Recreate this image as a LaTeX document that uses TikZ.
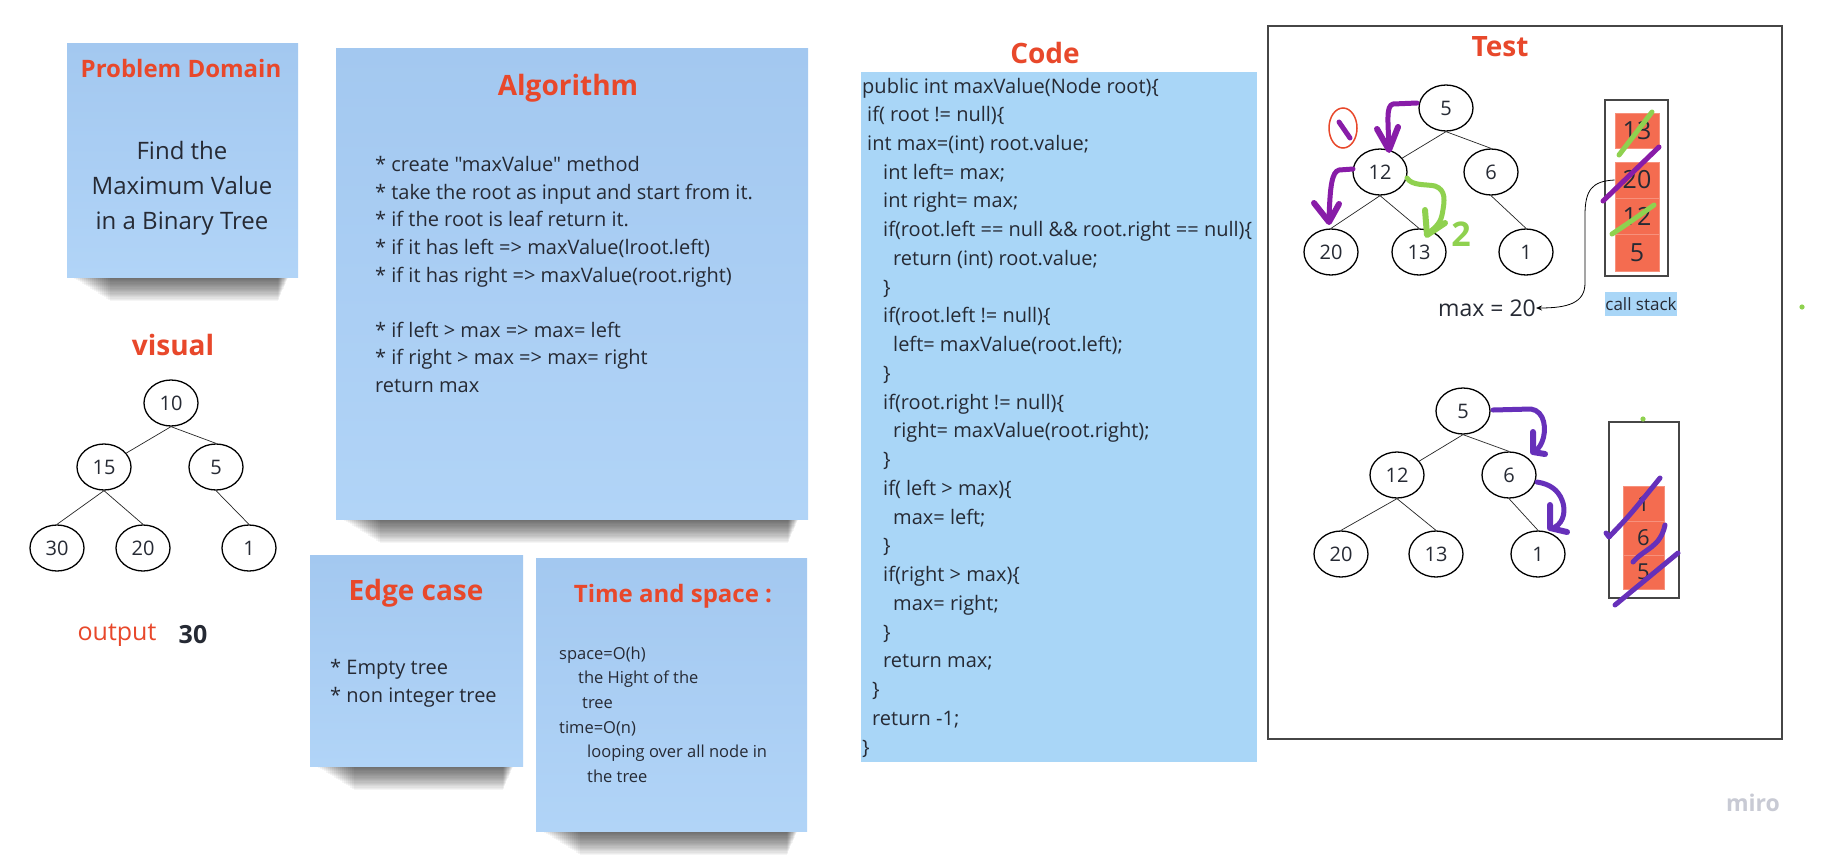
\documentclass[tikz,border=0pt]{standalone}
\usepackage{fontspec}
\setmainfont{Open Sans}[Ligatures=TeXOff]
\usetikzlibrary{shapes.geometric,arrows.meta}
\definecolor{stickyA}{RGB}{163,200,240}
\definecolor{stickyB}{RGB}{177,212,247}
\definecolor{codebg}{RGB}{169,214,247}
\definecolor{titlered}{RGB}{232,72,43}
\definecolor{ink}{RGB}{38,42,52}
\definecolor{coral}{RGB}{244,108,80}
\definecolor{purpA}{RGB}{136,28,168}
\definecolor{purpB}{RGB}{102,48,186}
\definecolor{lgreen}{RGB}{143,209,79}
\definecolor{framegray}{RGB}{70,70,70}
\definecolor{mirogray}{RGB}{200,202,212}
\begin{document}
\begin{tikzpicture}[x=1pt,y=-1pt,
  sticky/.style={top color=stickyA,bottom color=stickyB,draw=none},
  shadowlayer/.style={fill=black,opacity=0.04},
  heading/.style={text=titlered,inner sep=0pt},
  body/.style={text=ink,inner sep=0pt,align=left},
  tnode/.style={ellipse,draw=black,line width=1.3pt,minimum width=54pt,minimum height=46pt,inner sep=0pt,font=\fontsize{20}{20}\selectfont,text=ink},
  tedge/.style={line width=0.7pt,draw=black!85},
  cell/.style={rectangle,fill=coral,draw=coral!75!white,line width=0.6pt,inner sep=0pt,text=ink},
  stackbox/.style={draw=framegray,line width=1.5pt},
  pen/.style={line width=5pt,line cap=round,line join=round},
  headpen/.style={line width=6pt,line cap=round,line join=round}]
\useasboundingbox (0,0) rectangle (1826,855);
\fill[white] (0,0) rectangle (1826,855);

% ---------- shadows (stacked translucent bands) ----------
\foreach \xa/\xb/\yb in {70/289/276, 340/799/518, 314/514/765, 540/798/830}{
  \foreach \i in {1,...,20}{
    \fill[shadowlayer] (\xa+2*\i,\yb) rectangle (\xb-0.55*\i,\yb+1.25*\i);
  }
}

% ---------- stickies ----------
\fill[sticky] (67,43) rectangle (298,277);
\fill[sticky] (336,48) rectangle (808,519);
\fill[sticky] (310,555) rectangle (523,766);
\fill[sticky] (536,558) rectangle (807,831);

% ---------- Problem Domain ----------
\node[heading,font=\bfseries\fontsize{24}{24}\selectfont] (pdt) at (181,68) {Problem Domain};
\node[text=ink,inner sep=0pt,align=center,font=\fontsize{24}{35}\selectfont] (pdb) at (182,188) {Find the\\Maximum Value\\in a Binary Tree};

% ---------- Algorithm ----------
\node[heading,font=\bfseries\fontsize{28}{28}\selectfont] (algt) at (568,88) {Algorithm};
\node[body,anchor=west,font=\fontsize{20}{27.6}\selectfont] (algb) at (375,274.5) {* create "maxValue" method\\
* take the root as input and start from it.\\
* if the root is leaf return it.\\
* if it has left => maxValue(lroot.left)\\
* if it has right => maxValue(root.right)\\[27.6pt]
* if left > max => max= left\\
* if right > max => max= right\\
return max};

% ---------- visual ----------
\node[heading,font=\bfseries\fontsize{28}{28}\selectfont] (vist) at (173,345) {visual};
\node[tnode] (v10) at (171,403) {10};
\node[tnode] (v15) at (104,467) {15};
\node[tnode] (v5) at (216,467) {5};
\node[tnode] (v30) at (57,548) {30};
\node[tnode] (v20) at (143,548) {20};
\node[tnode] (v1) at (249,548) {1};
\draw[tedge] (v10.south) -- (v15.32);
\draw[tedge] (v10.south) -- (v5.north);
\draw[tedge] (v15.south) -- (v30.north);
\draw[tedge] (v15.south) -- (v20.north);
\draw[tedge] (v5.south) -- (v1.north);
\node[text=titlered,inner sep=0pt,font=\fontsize{25}{25}\selectfont] (outl) at (117,635) {output};
\node[text=ink,inner sep=0pt,font=\bfseries\fontsize{25}{25}\selectfont] (outv) at (193,635) {30};

% ---------- Edge case ----------
\node[heading,font=\bfseries\fontsize{28}{28}\selectfont] (edt) at (416,593) {Edge case};
\node[body,anchor=west,font=\fontsize{20}{28}\selectfont] (edb) at (330,683) {* Empty tree\\* non integer tree};

% ---------- Time and space ----------
\node[heading,font=\bfseries\fontsize{24}{24}\selectfont] (tst) at (673,596) {Time and space :};
\node[body,anchor=west,font=\fontsize{16.5}{24.6}\selectfont] (tsb) at (559,714.5) {space=O(h)\\
\hspace*{19pt}the Hight of the\\
\hspace*{23pt}tree\\
time=O(n)\\
\hspace*{28pt}looping over all node in\\
\hspace*{28pt}the tree};

% ---------- Code ----------
\node[heading,font=\bfseries\fontsize{28}{28}\selectfont] (codet) at (1045,53) {Code};
\fill[codebg] (861,72) rectangle (1257,762);
\node[body,anchor=west,font=\fontsize{20}{28.74}\selectfont] (codeb) at (862,417.5) {public int maxValue(Node root)\{\\
\hspace*{5pt}if( root != null)\{\\
\hspace*{5pt}int max=(int) root.value;\\
\hspace*{21pt}int left= max;\\
\hspace*{21pt}int right= max;\\
\hspace*{21pt}if(root.left == null \&\& root.right == null)\{\\
\hspace*{31pt}return (int) root.value;\\
\hspace*{21pt}\}\\
\hspace*{21pt}if(root.left != null)\{\\
\hspace*{31pt}left= maxValue(root.left);\\
\hspace*{21pt}\}\\
\hspace*{21pt}if(root.right != null)\{\\
\hspace*{31pt}right= maxValue(root.right);\\
\hspace*{21pt}\}\\
\hspace*{21pt}if( left > max)\{\\
\hspace*{31pt}max= left;\\
\hspace*{21pt}\}\\
\hspace*{21pt}if(right > max)\{\\
\hspace*{31pt}max= right;\\
\hspace*{21pt}\}\\
\hspace*{21pt}return max;\\
\hspace*{10pt}\}\\
\hspace*{10pt}return -1;\\
\}};

% ---------- Test frame ----------
\draw[draw=framegray,line width=1.5pt] (1268,26) rectangle (1782,739);
\node[heading,font=\bfseries\fontsize{28}{28}\selectfont] (testt) at (1500,47) {Test};

% top tree
\node[tnode] (a5) at (1446,108) {5};
\node[tnode] (a12) at (1380,172) {12};
\node[tnode] (a6) at (1491,172) {6};
\node[tnode] (a20) at (1331,252) {20};
\node[tnode] (a13) at (1419,252) {13};
\node[tnode] (a1) at (1526,252) {1};
\draw[tedge] (a5.south) -- (a12.32);
\draw[tedge] (a5.south) -- (a6.north);
\draw[tedge] (a12.south) -- (a20.north);
\draw[tedge] (a12.south) -- (a13.north);
\draw[tedge] (a6.south) -- (a1.north);

% top call stack
\draw[stackbox] (1605,100) rectangle (1668,276);
\node[cell,minimum width=44pt,minimum height=35pt,font=\fontsize{25}{25}\selectfont] (s13) at (1637,130.5) {13};
\node[cell,minimum width=44pt,minimum height=36pt,font=\fontsize{25}{25}\selectfont] (s20) at (1637,180) {20};
\node[cell,minimum width=44pt,minimum height=36pt,font=\fontsize{25}{25}\selectfont] (s12) at (1637,216) {12};
\node[cell,minimum width=44pt,minimum height=37pt,font=\fontsize{25}{25}\selectfont] (s5) at (1637,252.5) {5};
\node[fill=codebg,minimum width=72pt,minimum height=24pt,inner sep=0pt,text=ink,font=\fontsize{17}{17}\selectfont] (cslbl) at (1641,304) {call stack};
\node[text=ink,inner sep=0pt,font=\fontsize{23}{23}\selectfont] (maxlbl) at (1487,308) {max = 20};
\draw[line width=0.8pt,-{Stealth[length=6pt,width=5pt]}] (s20.west) .. controls (1592,181) and (1585,190) .. (1585,215) -- (1585,283) .. controls (1585,303) and (1568,308) .. (maxlbl.east);

% top annotations
\draw[titlered,line width=1.5pt] (1343,128) ellipse [x radius=14, y radius=20];
\draw[purpA,pen] (1339,122) -- (1350,138);
\draw[purpA,pen] (1417,103) -- (1393,104) .. controls (1386,106) and (1388,120) .. (1389,148);
\draw[purpA,headpen] (1377,129) -- (1389,150) -- (1398,127);
\draw[purpA,pen] (1353,169) -- (1339,170) .. controls (1332,172) and (1330,185) .. (1329,220);
\draw[purpA,headpen] (1314,203) -- (1329,222) -- (1339,204);
\draw[lgreen,pen] (1407,178) .. controls (1412,186) and (1425,184) .. (1435,186) .. controls (1446,190) and (1445,200) .. (1442,215) .. controls (1440,225) and (1432,230) .. (1427,234);
\draw[lgreen,headpen] (1425,210) -- (1427,235) -- (1445,223);
\node[text=lgreen,inner sep=0pt,font=\bfseries\fontsize{34}{34}\selectfont] (two) at (1461,234) {2};
\draw[lgreen,pen] (1619,155) -- (1652,112);
\draw[purpA,pen] (1603,201) -- (1659,147);
\draw[lgreen,pen] (1612,234) .. controls (1630,222) .. (1654,205);
\fill[lgreen] (1802,307) circle (2.6);

% bottom tree
\node[tnode] (b5) at (1463,411) {5};
\node[tnode] (b12) at (1397,475) {12};
\node[tnode] (b6) at (1509,475) {6};
\node[tnode] (b20) at (1341,554) {20};
\node[tnode] (b13) at (1436,554) {13};
\node[tnode] (b1) at (1538,554) {1};
\draw[tedge] (b5.south) -- (b12.32);
\draw[tedge] (b5.south) -- (b6.north);
\draw[tedge] (b12.south) -- (b20.north);
\draw[tedge] (b12.south) -- (b13.north);
\draw[tedge] (b6.south) -- (b1.north);

% bottom call stack
\draw[stackbox] (1609,422) rectangle (1679,598);
\node[cell,minimum width=41pt,minimum height=35pt,font=\fontsize{22}{22}\selectfont] (t1) at (1643.5,503.5) {1};
\node[cell,minimum width=41pt,minimum height=34pt,font=\fontsize{22}{22}\selectfont] (t6) at (1643.5,538) {6};
\node[cell,minimum width=41pt,minimum height=34pt,font=\fontsize{22}{22}\selectfont] (t5) at (1643.5,572) {5};
\fill[lgreen] (1643,419) circle (2.6);

% bottom annotations
\draw[purpB,pen] (1493,410) -- (1531,409) .. controls (1545,411) and (1547,430) .. (1542,442) .. controls (1540,447) and (1537,450) .. (1535,450);
\draw[purpB,headpen] (1533,432) -- (1533,452) -- (1545,454);
\draw[purpB,pen] (1537,482) .. controls (1550,484) and (1558,490) .. (1562,500) .. controls (1566,510) and (1564,522) .. (1555,527);
\draw[purpB,headpen] (1550,505) -- (1550,528) -- (1567,532);
\draw[purpB,pen] (1606,533) -- (1609,537) .. controls (1630,515) .. (1660,478);
\draw[purpB,pen] (1633,562) .. controls (1645,548) and (1660,548) .. (1665,525);
\draw[purpB,pen] (1615,605) -- (1678,553);

% logo
\node[text=mirogray,inner sep=0pt,font=\bfseries\fontsize{23}{23}\selectfont] (logo) at (1753,803) {miro};
\end{tikzpicture}
\end{document}
